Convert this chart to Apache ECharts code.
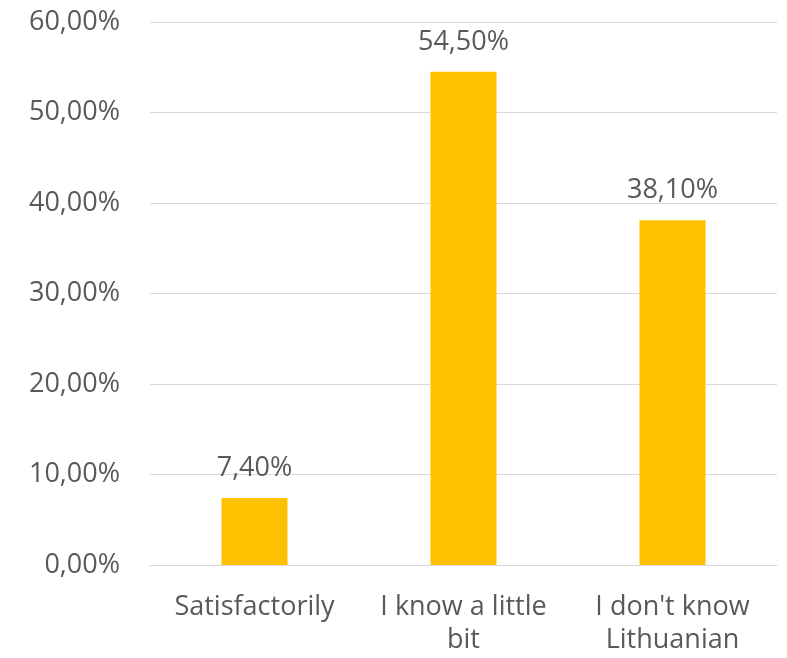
<!DOCTYPE html>
<html><head><meta charset="utf-8">
<script src="https://cdn.jsdelivr.net/npm/echarts@6/dist/echarts.min.js"></script>
<style>html,body{margin:0;padding:0;background:#fff}#c{width:787px;height:658px}</style>
</head><body><div id="c"></div>
<script>
const categories = ["Satisfactorily", "I know a little\nbit", "I don't know\nLithuanian"];
const values = [7.4, 54.5, 38.1];
const yTicks = {min: 0, max: 60, interval: 10};
const fmt = v => v.toFixed(2).replace('.', ',') + '%';
const font = '"Open Sans", Arial, sans-serif';
const chart = echarts.init(document.getElementById('c'));
chart.setOption({
  animation: false,
  grid: {left: 150, right: 10, top: 22, bottom: 93},
  xAxis: {
    type: 'category', data: categories,
    axisLine: {lineStyle: {color: '#D9D9D9', width: 1}},
    axisTick: {show: false},
    axisLabel: {color: '#595959', fontSize: 27, fontFamily: font, margin: 26, lineHeight: 33, interval: 0}
  },
  yAxis: {
    type: 'value', min: yTicks.min, max: yTicks.max, interval: yTicks.interval,
    axisLine: {show: false}, axisTick: {show: false},
    splitLine: {lineStyle: {color: '#D9D9D9', width: 1}},
    axisLabel: {color: '#595959', fontSize: 27, fontFamily: font, margin: 30, formatter: fmt}
  },
  series: [{
    type: 'bar', data: values, barWidth: 66,
    itemStyle: {color: '#FFC000'},
    label: {show: true, position: 'top', distance: 16, color: '#595959', fontSize: 27, fontFamily: font, formatter: p => fmt(p.value)}
  }]
});
</script></body></html>
